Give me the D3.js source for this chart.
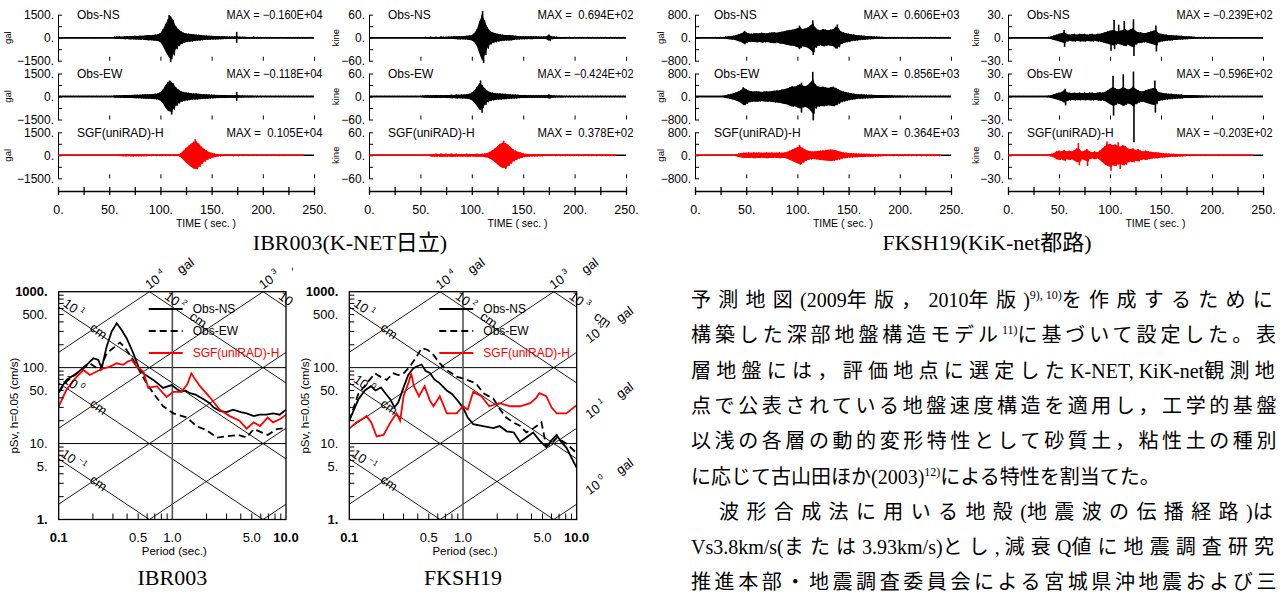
<!DOCTYPE html>
<html>
<head>
<meta charset="utf-8">
<script src="https://cdn.jsdelivr.net/npm/d3@7"></script>
<style>
  body { margin: 0; background: #fff; }
  svg { display: block; }
  text { font-family: "Liberation Sans", Arial, sans-serif; }
  .serif { font-family: "Liberation Serif", "Noto Sans CJK JP", serif; }
</style>
</head>
<body>
<svg id="chart" width="1282" height="592"></svg>
<script>
// ---------- waveform data (envelope amplitude every 2.5 s) ----------
const TIME_STEP = 2.5;
const PANEL_NAMES = ["Obs-NS", "Obs-EW", "SGF(uniRAD)-H"];

// IBR003 acceleration (gal)
const IBR_ACC_NS = [15,15,15,15,15,15,15,15,15,15, 15,15,15,15,15,15,15,15,15,15,
  15,15,60,80,90,70,100,90,110,100, 120,110,130,120,150,170,160,180,200,220,
  300,550,900,1200,1400,1150,750,550,420,330, 280,260,240,220,200,190,170,150,140,130,
  120,110,110,100,95,90,85,80,75,80, 90,70,60,55,50,45,50,40,35,30,
  20,20,20,20,20,20,20,20,20,20, 20,20,20,20,20,20,20,20,20,20, 20];
const IBR_ACC_EW = [15,15,15,15,15,15,15,15,15,15, 15,15,15,15,15,15,15,15,15,15,
  15,15,60,70,80,85,90,95,100,105, 110,115,120,130,140,145,150,165,180,200,
  280,450,750,950,1000,850,600,450,350,300, 260,240,220,200,190,175,160,150,140,130,
  120,110,105,100,95,90,85,80,75,80, 90,65,60,55,50,48,45,40,35,30,
  20,20,20,20,20,20,20,20,20,20, 20,20,20,20,20,20,20,20,20,20, 20];
const IBR_ACC_SGF = [8,8,8,8,8,8,8,8,8,8, 8,8,8,8,8,8,8,8,8,8,
  8,8,8,10,40,60,70,55,65,75, 60,70,65,55,60,45,40,40,35,40,
  40,35,40,40,45,40,50,40,150,300, 480,620,760,880,900,760,560,420,310,220,
  160,120,90,70,55,50,45,45,40,40, 40,35,30,30,28,25,25,25,25,25,
  25,25,25,25,25,25,25,25,22,22, 22,22,22,22,20,20,20];
// IBR003 velocity (kine)
const IBR_VEL_NS = [0.5,0.5,0.5,0.5,0.5,0.5,0.5,0.5,0.5,0.5, 0.5,0.5,0.5,0.5,0.5,0.5,0.5,0.5,0.5,0.5,
  0.5,0.5,1.5,2,2.5,2,2.5,2,3,2.5, 2.5,3,3,3.5,4,4.5,4,4.5,5,6,
  7,12,22,42,60,45,28,18,14,12, 10,9,8,7,7,7,6,5,4.5,4,
  4,4,3.5,4,3.5,3.5,3,3,3,4, 8,4,3,2.5,2,2,2,1.5,1.5,1.5,
  1,1,1,1,1,1,1,1,1,1, 1,1,1,1,1,1,1,1,1,1, 1];
const IBR_VEL_EW = [0.5,0.5,0.5,0.5,0.5,0.5,0.5,0.5,0.5,0.5, 0.5,0.5,0.5,0.5,0.5,0.5,0.5,0.5,0.5,0.5,
  1,2,3,3,3.5,3,4,3.5,4,3.5, 4,4,4.5,4,5,4.5,5,5,6,7,
  10,16,25,35,30,22,15,12,10,9, 8,8,7,7,6,6,5,5,4.5,4,
  4,4,3.5,3.5,3,3,3,3,3,3.5, 5,3,2.5,2,2,2,1.5,1.5,1.5,1.5,
  1,1,1,1,1,1,1,1,1,1, 1,1,1,1,1,1,1,1,1,1, 1];
const IBR_VEL_SGF = [0.5,0.5,0.5,0.5,0.5,0.5,0.5,0.5,0.5,0.5, 0.5,0.5,0.5,0.5,0.5,0.5,0.5,0.5,0.5,0.5,
  0.5,0.5,0.5,1,3,3.5,4,3,4.5,3.5, 4,3,4.5,3.5,4,3,3.5,3,4,3.5,
  3,3.5,4,3.5,4,5,6,9,13,18, 24,30,33,32,28,22,16,12,9,7,
  5,4,3.5,3,3,3,2.5,2.5,2,2, 2,2,1.5,1.5,1.5,1.5,1.5,1.5,1.5,1.5,
  1.5,1.5,1.5,1.5,1.5,1.5,1.5,1.5,1.5,1.5, 1.5,1.5,1.5,1.5,1.5,1.5,1.5];
// FKSH19 acceleration (gal)
const FK_ACC_NS = [5,5,5,5,5,5,5,5,15,15, 15,20,40,50,60,70,90,120,150,200,
  180,150,140,150,160,150,170,160,150,170, 180,190,170,200,210,230,250,270,280,300,
  330,360,300,320,350,420,500,350,280,260, 300,280,260,280,300,380,330,220,180,160,
  140,120,110,95,85,75,70,60,55,50, 45,40,35,30,28,25,20,18,15,14,
  12,12,12,12,12,12,12,12,12,12, 12,12,12,12,12,12,12,12,12,12, 12];
const FK_ACC_EW = [5,5,5,5,5,5,5,5,5,5, 5,20,50,70,90,110,140,180,230,300,
  260,200,180,170,180,170,160,170,180,170, 190,200,210,220,240,260,280,320,360,340,
  380,420,380,360,400,480,600,420,350,330, 340,320,300,320,340,300,250,200,170,150,
  130,115,100,90,80,75,70,65,60,58, 55,52,50,48,45,42,40,35,30,28,
  25,22,20,18,15,12,12,12,12,12, 12,12,12,12,12,12,12,12,12,12, 12];
const FK_ACC_SGF = [5,5,5,5,5,5,5,5,5,5, 5,5,5,5,5,5,30,60,80,90,
  90,95,85,100,90,95,85,90,100,90, 95,85,90,100,90,95,120,160,200,240,
  280,300,260,200,160,140,130,140,150,160, 170,180,190,200,190,170,150,120,100,90,
  80,75,70,65,60,58,55,52,50,48, 45,40,35,30,28,25,22,20,20,20,
  20,20,20,20,20,20,20,20,20,20, 20,20,20,20,20,20,20];
// FKSH19 velocity (kine)
const FK_VEL_NS = [0.2,0.2,0.2,0.2,0.2,0.2,0.2,0.2,0.2,0.2, 0.2,0.2,0.2,0.2,0.2,0.5,1,2,3,4,
  5,6,7,5,4,4.5,5,4,5,4.5, 5,4,4.5,5,4,5,5,6,7,8,
  9,10,9,8,9,10,11,9,11,12, 9,7,7,6,6,7,8,9,10,6,
  5,4.5,4,3.5,3.5,3,3,2.5,2.5,2, 2,1.8,1.5,1.2,1,1,0.8,0.8,0.6,0.5,
  0.3,0.3,0.3,0.3,0.3,0.3,0.3,0.3,0.3,0.3, 0.3,0.3,0.3,0.3,0.3,0.3,0.3,0.3,0.3,0.3, 0.3];
const FK_VEL_EW = [0.2,0.2,0.2,0.2,0.2,0.2,0.2,0.2,0.2,0.2, 0.2,0.2,0.2,0.2,0.2,0.5,1,2,3,4,
  5,6,8,6,5,4.5,5,4.5,5,4.5, 5,4.5,5,5,4.5,5,5.5,5,6,8,
  10,12,11,9,10,12,11,9,10,13, 10,8,7,7,8,9,10,11,10,6,
  5,4.5,4,3.5,3.5,3,3,2.5,2.5,2, 2,1.8,1.8,1.5,1.5,1.2,1.2,1,1,0.8,
  0.5,0.5,0.5,0.5,0.5,0.3,0.3,0.3,0.3,0.3, 0.3,0.3,0.3,0.3,0.3,0.3,0.3,0.3,0.3,0.3, 0.3];
const FK_VEL_SGF = [0.2,0.2,0.2,0.2,0.2,0.2,0.2,0.2,0.2,0.2, 0.2,0.2,0.2,0.2,0.2,0.5,1,2,3,5,
  6,5,7,5,6,5,7,9,8,5, 6,8,5,4,5,4,6,9,12,14,
  15,13,14,12,11,13,12,9,8,9, 7,8,6,5,6,5,4.5,4,4,3.5,
  3,2.8,2.5,2.2,2,1.9,1.8,1.6,1.5,1.2, 1,0.8,0.6,0.5,0.4,0.4,0.4,0.4,0.4,0.4,
  0.4,0.4,0.4,0.4,0.4,0.4,0.4,0.4,0.4,0.4, 0.4,0.4,0.4,0.4,0.4,0.4,0.4];

// single peaks [time, value]
const IBR_ACC_NS_PEAKS = [[108.5, 1480], [110, -1600], [174.5, 380], [174.5, -330], [191, 110]];
const IBR_ACC_EW_PEAKS = [[109, 1050], [111, -1180], [174.5, 300], [174.5, -280]];
const IBR_ACC_SGF_PEAKS = [[134, 1050], [135.5, -900]];
const IBR_VEL_NS_PEAKS = [[110.5, 69.4], [111.5, -66]];
const IBR_VEL_EW_PEAKS = [[108.5, 42], [110, -42.4]];
const IBR_VEL_SGF_PEAKS = [[131, 37.8], [133, -36]];
const FK_ACC_NS_PEAKS = [[115, 606], [115.5, -600], [139, 460], [48.5, 240], [48.5, -230], [102, 420], [102, -400]];
const FK_ACC_EW_PEAKS = [[115, 856], [115.5, -830], [104, 480], [104, -560], [47, 320]];
const FK_ACC_SGF_PEAKS = [[102, 364], [103, -340]];
const FK_VEL_NS_PEAKS = [[55, 10], [55.5, -12], [104, 23], [104.5, -15], [114, 22], [123, 24], [123.5, -23.9], [145, 16], [145.5, -18], [108.5, 17], [101, -17]];
const FK_VEL_EW_PEAKS = [[56, 10], [56.5, -11.7], [103, 27], [103.5, -25], [113, 29], [123, 32.5], [123.5, -59.6], [144, 21], [144.5, -21]];
const FK_VEL_SGF_PEAKS = [[69, 16], [70, -13], [78, -14], [97, 18], [101, -20.3], [108, 17], [110, -18]];

const MAX_IBR_ACC = ["-0.160E+04", "-0.118E+04", "0.105E+04"];
const MAX_IBR_VEL = ["0.694E+02", "-0.424E+02", "0.378E+02"];
const MAX_FK_ACC = ["0.606E+03", "0.856E+03", "0.364E+03"];
const MAX_FK_VEL = ["-0.239E+02", "-0.596E+02", "-0.203E+02"];
const TIME_TICKS = [0, 25, 50, 75, 100, 125, 150, 175, 200, 225, 250];

// ---------- response spectra data (period s, pSv cm/s) ----------
const IBR_NS_T = [0.1,0.117,0.144,0.176,0.202,0.223,0.239,0.264,0.292,0.324,0.358,0.396,0.453,0.502,0.555,0.68,0.83,0.985,1.05,1.1,1.2,1.3,1.43,1.6,1.74,1.9,2.13,2.3,2.61,3.0,3.43,4.0,4.5,5.2,5.88,6.7,7.7,8.8,10];
const IBR_NS_SV = [48,69,84,109,133,126,98,189,298,384,313,244,155,103,84,69,54,59,55,52,48,50,46,44,41,38,34,30,27,26,28,26,25,23,24,24,25,24,28];
const IBR_EW_T = [0.1,0.117,0.152,0.188,0.231,0.264,0.313,0.346,0.396,0.453,0.518,0.595,0.68,0.83,1.02,1.34,1.63,2.0,2.46,3.0,3.8,4.5,5.2,6.9,8.3,10];
const IBR_EW_SV = [47,66,89,114,93,155,189,215,171,126,89,62,46,31,25,22,17,15,12,12.5,13,12,15.5,13,15.5,16];
const IBR_SGF_T = [0.1,0.117,0.144,0.165,0.188,0.216,0.25,0.283,0.324,0.37,0.405,0.439,0.485,0.555,0.614,0.73,0.89,1.02,1.2,1.35,1.47,1.6,1.75,2.13,2.6,3.2,3.9,4.5,5.2,5.9,6.9,7.7,8.9,10];
const IBR_SGF_SV = [31,51,76,93,80,89,98,103,114,109,120,126,103,89,54,57,41,48,48,60,84,69,57,41,28,23,20,15.7,19,17,22,19,21,24];
const FK_NS_T = [0.1,0.12,0.137,0.155,0.17,0.19,0.21,0.23,0.25,0.27,0.3,0.33,0.366,0.4,0.433,0.47,0.512,0.56,0.625,0.72,0.8,0.88,1.0,1.1,1.23,1.5,1.85,2.1,2.42,2.8,3.17,3.6,4.14,4.7,5.4,6.0,6.66,7.3,8.14,9.0,10];
const FK_NS_SV = [20,38,50,57,50,55,45,38,30,35,55,80,98,105,110,90,85,70,62,50,45,38,30,22,18,17,16,17,14.5,14,10.5,12,14,11,9,11,13,10.5,8.8,6.5,4.8];
const FK_EW_T = [0.1,0.12,0.142,0.168,0.19,0.213,0.244,0.27,0.3,0.34,0.39,0.433,0.49,0.55,0.625,0.72,0.88,1.08,1.3,1.51,1.85,2.12,2.4,2.77,3.2,3.6,4.2,4.9,5.4,6.0,6.7,8.1,10];
const FK_EW_SV = [20,45,62,84,75,69,84,80,84,103,139,180,171,147,114,93,76,69,62,46,39,28,22,19,17,14,16,19,9.2,10,12,10,7.5];
const FK_SGF_T = [0.1,0.115,0.13,0.142,0.156,0.174,0.2,0.23,0.26,0.28,0.3,0.33,0.35,0.37,0.41,0.46,0.51,0.55,0.625,0.72,0.88,1.0,1.1,1.23,1.45,1.7,2.1,2.6,3.17,3.9,4.4,4.7,5.4,6.0,6.66,8.1,10];
const FK_SGF_SV = [15.7,19,21,23,19,12.4,13,19,25,20,42,62,84,57,42,57,37,31,42,25,25,31,28,48,42,31,34,31,31,34,40,46,42,30,25,25,32];

const DISP_LINES = [0.1, 1, 10, 100, 1000];   // cm
const ACC_LINES = [1, 10, 100, 1000, 10000];  // gal
const SV_TICKS = [1000, 500, 100, 50, 10, 5, 1];
const PERIOD_TICKS = [0.1, 0.5, 1, 5, 10];

// ---------- layout ----------
const PANEL_TOP = 14.7, PANEL_H = 46, PANEL_GAP = 58.8, TIME_AXIS_Y = 191;
const SP_TOP = 291.7, SP_BOTTOM = 519.5;
const RED = "#ff0000";

const svg = d3.select("#chart");

const GROUPS = [
  {x0: 58, x1: 314, ymax: 1500, unit: "gal", unitX: 8, max: MAX_IBR_ACC,
   amps: [IBR_ACC_NS, IBR_ACC_EW, IBR_ACC_SGF], peaks: [IBR_ACC_NS_PEAKS, IBR_ACC_EW_PEAKS, IBR_ACC_SGF_PEAKS]},
  {x0: 369, x1: 626, ymax: 60, unit: "kine", unitX: 336, max: MAX_IBR_VEL,
   amps: [IBR_VEL_NS, IBR_VEL_EW, IBR_VEL_SGF], peaks: [IBR_VEL_NS_PEAKS, IBR_VEL_EW_PEAKS, IBR_VEL_SGF_PEAKS]},
  {x0: 695, x1: 951, ymax: 800, unit: "gal", unitX: 661, max: MAX_FK_ACC,
   amps: [FK_ACC_NS, FK_ACC_EW, FK_ACC_SGF], peaks: [FK_ACC_NS_PEAKS, FK_ACC_EW_PEAKS, FK_ACC_SGF_PEAKS]},
  {x0: 1008, x1: 1263, ymax: 30, unit: "kine", unitX: 976, max: MAX_FK_VEL,
   amps: [FK_VEL_NS, FK_VEL_EW, FK_VEL_SGF], peaks: [FK_VEL_NS_PEAKS, FK_VEL_EW_PEAKS, FK_VEL_SGF_PEAKS]}
];

function tickLabel(v) {
  if (v === 0) return "0.";
  return (v < 0 ? "\u2212" : "") + Math.abs(v) + ".";
}

function drawWaveGroup(G) {
  const x = d3.scaleLinear().domain([0, 250]).range([G.x0, G.x1]);
  const g = svg.append("g");

  G.amps.forEach((amp, i) => {
    const top = PANEL_TOP + i * PANEL_GAP;
    const y = d3.scaleLinear().domain([-G.ymax, G.ymax]).range([top + PANEL_H, top]);
    const color = i === 2 ? RED : "#000";

    // y axis with inward ticks
    const ax = g.append("g")
      .attr("transform", "translate(" + G.x0 + ",0)")
      .call(d3.axisLeft(y)
        .tickValues([-G.ymax, -G.ymax / 2, 0, G.ymax / 2, G.ymax])
        .tickSizeInner(-4).tickSizeOuter(0).tickPadding(4)
        .tickFormat(v => (v % G.ymax === 0) ? tickLabel(v) : ""));
    ax.selectAll("text").attr("font-size", 12).attr("fill", "#000");
    ax.selectAll("line, path").attr("stroke", "#000");

    // small ticks along the panel bottom
    const bx = g.append("g")
      .attr("transform", "translate(0," + (top + PANEL_H) + ")")
      .call(d3.axisBottom(x).tickValues([50, 100, 150, 200, 250]).tickSize(-4).tickFormat(""));
    bx.select(".domain").remove();
    bx.selectAll("line").attr("stroke", "#000");

    // unit label
    g.append("text")
      .attr("transform", "translate(" + G.unitX + "," + y(0) + ") rotate(-90)")
      .attr("text-anchor", "middle").attr("dy", "0.35em")
      .attr("font-size", 9.5).text(G.unit);

    // zero line
    g.append("line")
      .attr("x1", x(0)).attr("x2", x(250)).attr("y1", y(0)).attr("y2", y(0))
      .attr("stroke", "#000").attr("stroke-width", 1.5);

    // waveform: envelope band plus up/down trace of the samples
    const env = amp.map((a, k) => [k * TIME_STEP, a]);
    g.append("path")
      .attr("d", d3.area().x(d => x(d[0])).y0(d => y(-d[1])).y1(d => y(d[1]))(env))
      .attr("fill", color);
    const pts = [];
    amp.forEach((a, k) => {
      pts.push([k * TIME_STEP, a]);
      if (k < amp.length - 1) pts.push([k * TIME_STEP + TIME_STEP / 2, -a]);
    });
    g.append("path")
      .attr("d", d3.line().x(d => x(d[0])).y(d => y(d[1]))(pts))
      .attr("fill", "none").attr("stroke", color).attr("stroke-width", 1);
    g.append("line")
      .attr("x1", x(0)).attr("x2", x((amp.length - 1) * TIME_STEP))
      .attr("y1", y(0)).attr("y2", y(0))
      .attr("stroke", color).attr("stroke-width", 1.5);
    g.selectAll(null).data(G.peaks[i]).enter().append("line")
      .attr("x1", d => x(d[0])).attr("x2", d => x(d[0]))
      .attr("y1", y(0)).attr("y2", d => y(d[1]))
      .attr("stroke", color).attr("stroke-width", 1.6);

    // panel texts
    g.append("text").attr("x", G.x0 + 19).attr("y", top + 4.5)
      .attr("font-size", 12).text(PANEL_NAMES[i]);
    const m = G.max[i];
    g.append("text").attr("x", G.x0 + 168.5).attr("y", top + 4.5)
      .attr("font-size", 12).attr("textLength", 96).attr("lengthAdjust", "spacingAndGlyphs")
      .style("white-space", "pre")
      .text("MAX = " + (m[0] === "-" ? "\u2212" + m.slice(1) : " " + m));
  });

  // time axis
  const tx = g.append("g")
    .attr("transform", "translate(0," + TIME_AXIS_Y + ")")
    .call(d3.axisBottom(x).tickValues(TIME_TICKS).tickSizeInner(4).tickSizeOuter(0).tickPadding(10)
      .tickFormat(v => v % 50 === 0 ? v + "." : ""));
  tx.selectAll(".tick line").attr("y1", -4);
  tx.selectAll("line, path").attr("stroke", "#000").attr("stroke-width", 1.3);
  tx.selectAll("text").attr("font-size", 12.5).attr("fill", "#000");
  g.append("text").attr("x", (G.x0 + G.x1) / 2 + 20).attr("y", 226.5)
    .attr("text-anchor", "middle").attr("font-size", 10.5).style("white-space", "pre")
    .text("TIME ( sec. )");
}

GROUPS.forEach(drawWaveGroup);

// titles for the waveform blocks
svg.append("text").attr("class", "serif").attr("x", 350).attr("y", 250)
  .attr("text-anchor", "middle").attr("font-size", 22).text("IBR003(K-NET日立)");
svg.append("text").attr("class", "serif").attr("x", 987).attr("y", 250)
  .attr("text-anchor", "middle").attr("font-size", 22).text("FKSH19(KiK-net都路)");

// ---------- response spectra ----------
const SPECTRA = [
  {x0: 58.7, x1: 286, title: "IBR003", labelClip: 293, ylab: 14,
   series: [[IBR_NS_T, IBR_NS_SV], [IBR_EW_T, IBR_EW_SV], [IBR_SGF_T, IBR_SGF_SV]]},
  {x0: 349.3, x1: 576.7, title: "FKSH19", labelClip: 660, ylab: 305,
   series: [[FK_NS_T, FK_NS_SV], [FK_EW_T, FK_EW_SV], [FK_SGF_T, FK_SGF_SV]]}
];
const SERIES_STYLE = [
  {color: "#000", dash: null}, {color: "#000", dash: "7,4"}, {color: RED, dash: null}
];

function powLabel(parent, cx, cy, angle, exp, word, wx, wy) {
  const t = parent.append("text")
    .attr("transform", "translate(" + cx + "," + cy + ") rotate(" + angle + ")")
    .attr("text-anchor", "middle").attr("dy", "0.35em").attr("font-size", 13);
  t.append("tspan").text("10");
  t.append("tspan").attr("font-size", 8).attr("dx", 3).attr("dy", -6).text(exp);
  parent.append("text")
    .attr("transform", "translate(" + wx + "," + wy + ") rotate(" + angle + ")")
    .attr("text-anchor", "middle").attr("dy", "0.35em").attr("font-size", 13).text(word);
}

SPECTRA.forEach((S, si) => {
  const x = d3.scaleLog().domain([0.1, 10]).range([S.x0, S.x1]);
  const y = d3.scaleLog().domain([1, 1000]).range([SP_BOTTOM, SP_TOP]);
  const g = svg.append("g");
  const clipId = "spclip" + si, lclipId = "lbclip" + si;
  const defs = g.append("defs");
  defs.append("clipPath").attr("id", clipId).append("rect")
    .attr("x", S.x0).attr("y", SP_TOP).attr("width", S.x1 - S.x0).attr("height", SP_BOTTOM - SP_TOP);
  defs.append("clipPath").attr("id", lclipId).append("rect")
    .attr("x", 0).attr("y", 240).attr("width", S.labelClip).attr("height", 300);

  g.append("rect").attr("x", S.x0).attr("y", SP_TOP)
    .attr("width", S.x1 - S.x0).attr("height", SP_BOTTOM - SP_TOP).attr("fill", "#fff");

  const inner = g.append("g").attr("clip-path", "url(#" + clipId + ")");
  const TP = 2 * Math.PI;
  DISP_LINES.forEach(D => {
    inner.append("line").attr("x1", x(0.1)).attr("y1", y(TP * D / 0.1))
      .attr("x2", x(10)).attr("y2", y(TP * D / 10))
      .attr("stroke", "#000").attr("stroke-width", 0.9);
  });
  ACC_LINES.forEach(A => {
    inner.append("line").attr("x1", x(0.1)).attr("y1", y(A * 0.1 / TP))
      .attr("x2", x(10)).attr("y2", y(A * 10 / TP))
      .attr("stroke", "#000").attr("stroke-width", 0.9);
  });
  [10, 100].forEach(v => {
    inner.append("line").attr("x1", S.x0).attr("x2", S.x1).attr("y1", y(v)).attr("y2", y(v))
      .attr("stroke", "#000").attr("stroke-width", 1);
  });
  inner.append("line").attr("x1", x(1)).attr("x2", x(1)).attr("y1", SP_TOP).attr("y2", SP_BOTTOM)
    .attr("stroke", "#555").attr("stroke-width", 1.6);

  // legend
  S.series.forEach((s, i) => {
    const ly = 309 + i * 22;
    const st = SERIES_STYLE[i];
    inner.append("line").attr("x1", S.x0 + 90).attr("x2", S.x0 + 124).attr("y1", ly).attr("y2", ly)
      .attr("stroke", st.color).attr("stroke-width", 1.8).attr("stroke-dasharray", st.dash);
    inner.append("text").attr("x", S.x0 + 134).attr("y", ly).attr("dy", "0.35em")
      .attr("font-size", 12).attr("fill", st.color === RED ? RED : "#000").text(PANEL_NAMES[i]);
  });

  // curves
  const line = d3.line().x(d => x(d[0])).y(d => y(d[1]));
  S.series.forEach((s, i) => {
    const st = SERIES_STYLE[i];
    inner.append("path").attr("d", line(d3.zip(s[0], s[1])))
      .attr("fill", "none").attr("stroke", st.color).attr("stroke-width", 1.8)
      .attr("stroke-dasharray", st.dash);
  });

  // frame
  g.append("rect").attr("x", S.x0).attr("y", SP_TOP)
    .attr("width", S.x1 - S.x0).attr("height", SP_BOTTOM - SP_TOP)
    .attr("fill", "none").attr("stroke", "#000").attr("stroke-width", 1.3);

  // minor ticks
  const minorY = [];
  [1, 10, 100].forEach(d => { for (let k = 2; k <= 9; k++) minorY.push(d * k); });
  g.selectAll(null).data(minorY).enter().append("line")
    .attr("x1", S.x0).attr("x2", S.x0 + 5).attr("y1", d => y(d)).attr("y2", d => y(d))
    .attr("stroke", "#000");
  const minorX = [];
  [0.1, 1].forEach(d => { for (let k = 2; k <= 9; k++) minorX.push(d * k); });
  g.selectAll(null).data(minorX).enter().append("line")
    .attr("x1", d => x(d)).attr("x2", d => x(d)).attr("y1", SP_BOTTOM).attr("y2", SP_BOTTOM - 6)
    .attr("stroke", "#000");

  // tick labels
  g.selectAll(null).data(SV_TICKS).enter().append("text")
    .attr("x", S.x0 - 11).attr("y", d => y(d)).attr("dy", "0.35em").attr("text-anchor", "end")
    .attr("font-size", 13).attr("font-weight", d => (d === 1000 || d === 1) ? "bold" : "normal")
    .text(d => d + ".");
  g.selectAll(null).data(PERIOD_TICKS).enter().append("text")
    .attr("x", d => x(d)).attr("y", SP_BOTTOM + 22).attr("text-anchor", "middle")
    .attr("font-size", 13).attr("font-weight", d => (d === 0.1 || d === 10) ? "bold" : "normal")
    .text(d => d === 0.1 ? "0.1" : d.toFixed(1));
  g.append("text").attr("x", x(1) + 2).attr("y", SP_BOTTOM + 35).attr("text-anchor", "middle")
    .attr("font-size", 11.5).text("Period (sec.)");
  g.append("text")
    .attr("transform", "translate(" + S.ylab + "," + ((SP_TOP + SP_BOTTOM) / 2) + ") rotate(-90)")
    .attr("text-anchor", "middle").attr("dy", "0.35em").attr("font-size", 11.5)
    .text("pSv, h=0.05 (cm/s)");
  g.append("text").attr("class", "serif").attr("x", x(1)).attr("y", 585)
    .attr("text-anchor", "middle").attr("font-size", 22).text(S.title);

  // tripartite labels
  const lab = g.append("g").attr("clip-path", "url(#" + lclipId + ")");
  const ANG = 36;
  ACC_LINES.forEach(A => {
    const e = Math.round(Math.log10(A));
    const tTop = TP * 1000 / A;
    if (tTop >= 0.1 && tTop <= 10) {
      const px = x(tTop);
      powLabel(lab, px + 6, SP_TOP - 12, -ANG, e, "gal", px + 36, SP_TOP - 26);
    }
    const svR = A * 10 / TP;
    if (svR >= 1 && svR <= 1000) {
      const py = y(svR);
      powLabel(lab, S.x1 + 19, py - 19, -ANG, e, "gal", S.x1 + 48, py - 38);
    }
  });
  DISP_LINES.forEach(D => {
    const e = Math.round(Math.log10(D));
    const ex = e < 0 ? "\u2212" + Math.abs(e) : e;
    const svL = TP * D / 0.1;
    if (svL >= 1 && svL <= 1000) {
      const py = y(svL);
      powLabel(lab, S.x0 + 15, py + 1, ANG, ex, "cm", S.x0 + 40, py + 24);
    }
    const tTop = TP * D / 1000;
    if (tTop > 0.1 && tTop <= 10) {
      const px = x(tTop);
      powLabel(lab, px + 26, SP_TOP + 9, ANG, ex, "cm", px + 49, SP_TOP + 28);
    }
  });
});

// ---------- body text on the right (justified: extra space goes between CJK glyphs) ----------
const BODY = [
  {x: 691, y: 307, w: 589, parts: [["予測地図(2009年版，2010年版)", 0], ["9), 10)", 1], ["を作成するために", 0]]},
  {x: 691, y: 342.3, w: 589, parts: [["構築した深部地盤構造モデル", 0], ["11)", 1], ["に基づいて設定した。表", 0]]},
  {x: 691, y: 377.6, w: 589, parts: [["層地盤には，評価地点に選定したK-NET, KiK-net観測地", 0]]},
  {x: 691, y: 412.9, w: 589, parts: [["点で公表されている地盤速度構造を適用し，工学的基盤", 0]]},
  {x: 691, y: 448.2, w: 589, parts: [["以浅の各層の動的変形特性として砂質土，粘性土の種別", 0]]},
  {x: 691, y: 483.5, w: 466, parts: [["に応じて古山田ほか(2003)", 0], ["12)", 1], ["による特性を割当てた。", 0]]},
  {x: 719, y: 518.8, w: 561, parts: [["波形合成法に用いる地殻(地震波の伝播経路)は", 0]]},
  {x: 691, y: 554.1, w: 589, parts: [["Vs3.8km/s(または3.93km/s)とし, 減衰Q値に地震調査研究", 0]]},
  {x: 691, y: 589.4, w: 589, parts: [["推進本部・地震調査委員会による宮城県沖地震および三", 0]]}
];
const CJK_RUN = /[\u3000-\u9fff\uff00-\uffef]+|[^\u3000-\u9fff\uff00-\uffef]+/g;
const IS_CJK = /[\u3000-\u9fff\uff00-\uffef]/;
BODY.forEach(L => {
  const t = svg.append("text").attr("class", "serif").attr("x", L.x).attr("y", L.y)
    .attr("font-size", 20);
  const cjk = [];
  let up = false;
  L.parts.forEach(p => {
    p[0].match(CJK_RUN).forEach((run, ri) => {
      const ts = t.append("tspan").text(run);
      if (ri === 0) {
        if (p[1] && !up) { ts.attr("dy", -8); up = true; }
        else if (!p[1] && up) { ts.attr("dy", 8); up = false; }
      }
      if (p[1]) ts.attr("font-size", 12);
      if (IS_CJK.test(run)) cjk.push(ts);
    });
  });
  const w = t.node().getComputedTextLength();
  const n = d3.sum(cjk, s => s.text().length);
  const ls = Math.max(0, (L.w - w) / n);
  cjk.forEach(s => s.style("letter-spacing", ls + "px"));
});
</script>
</body>
</html>
